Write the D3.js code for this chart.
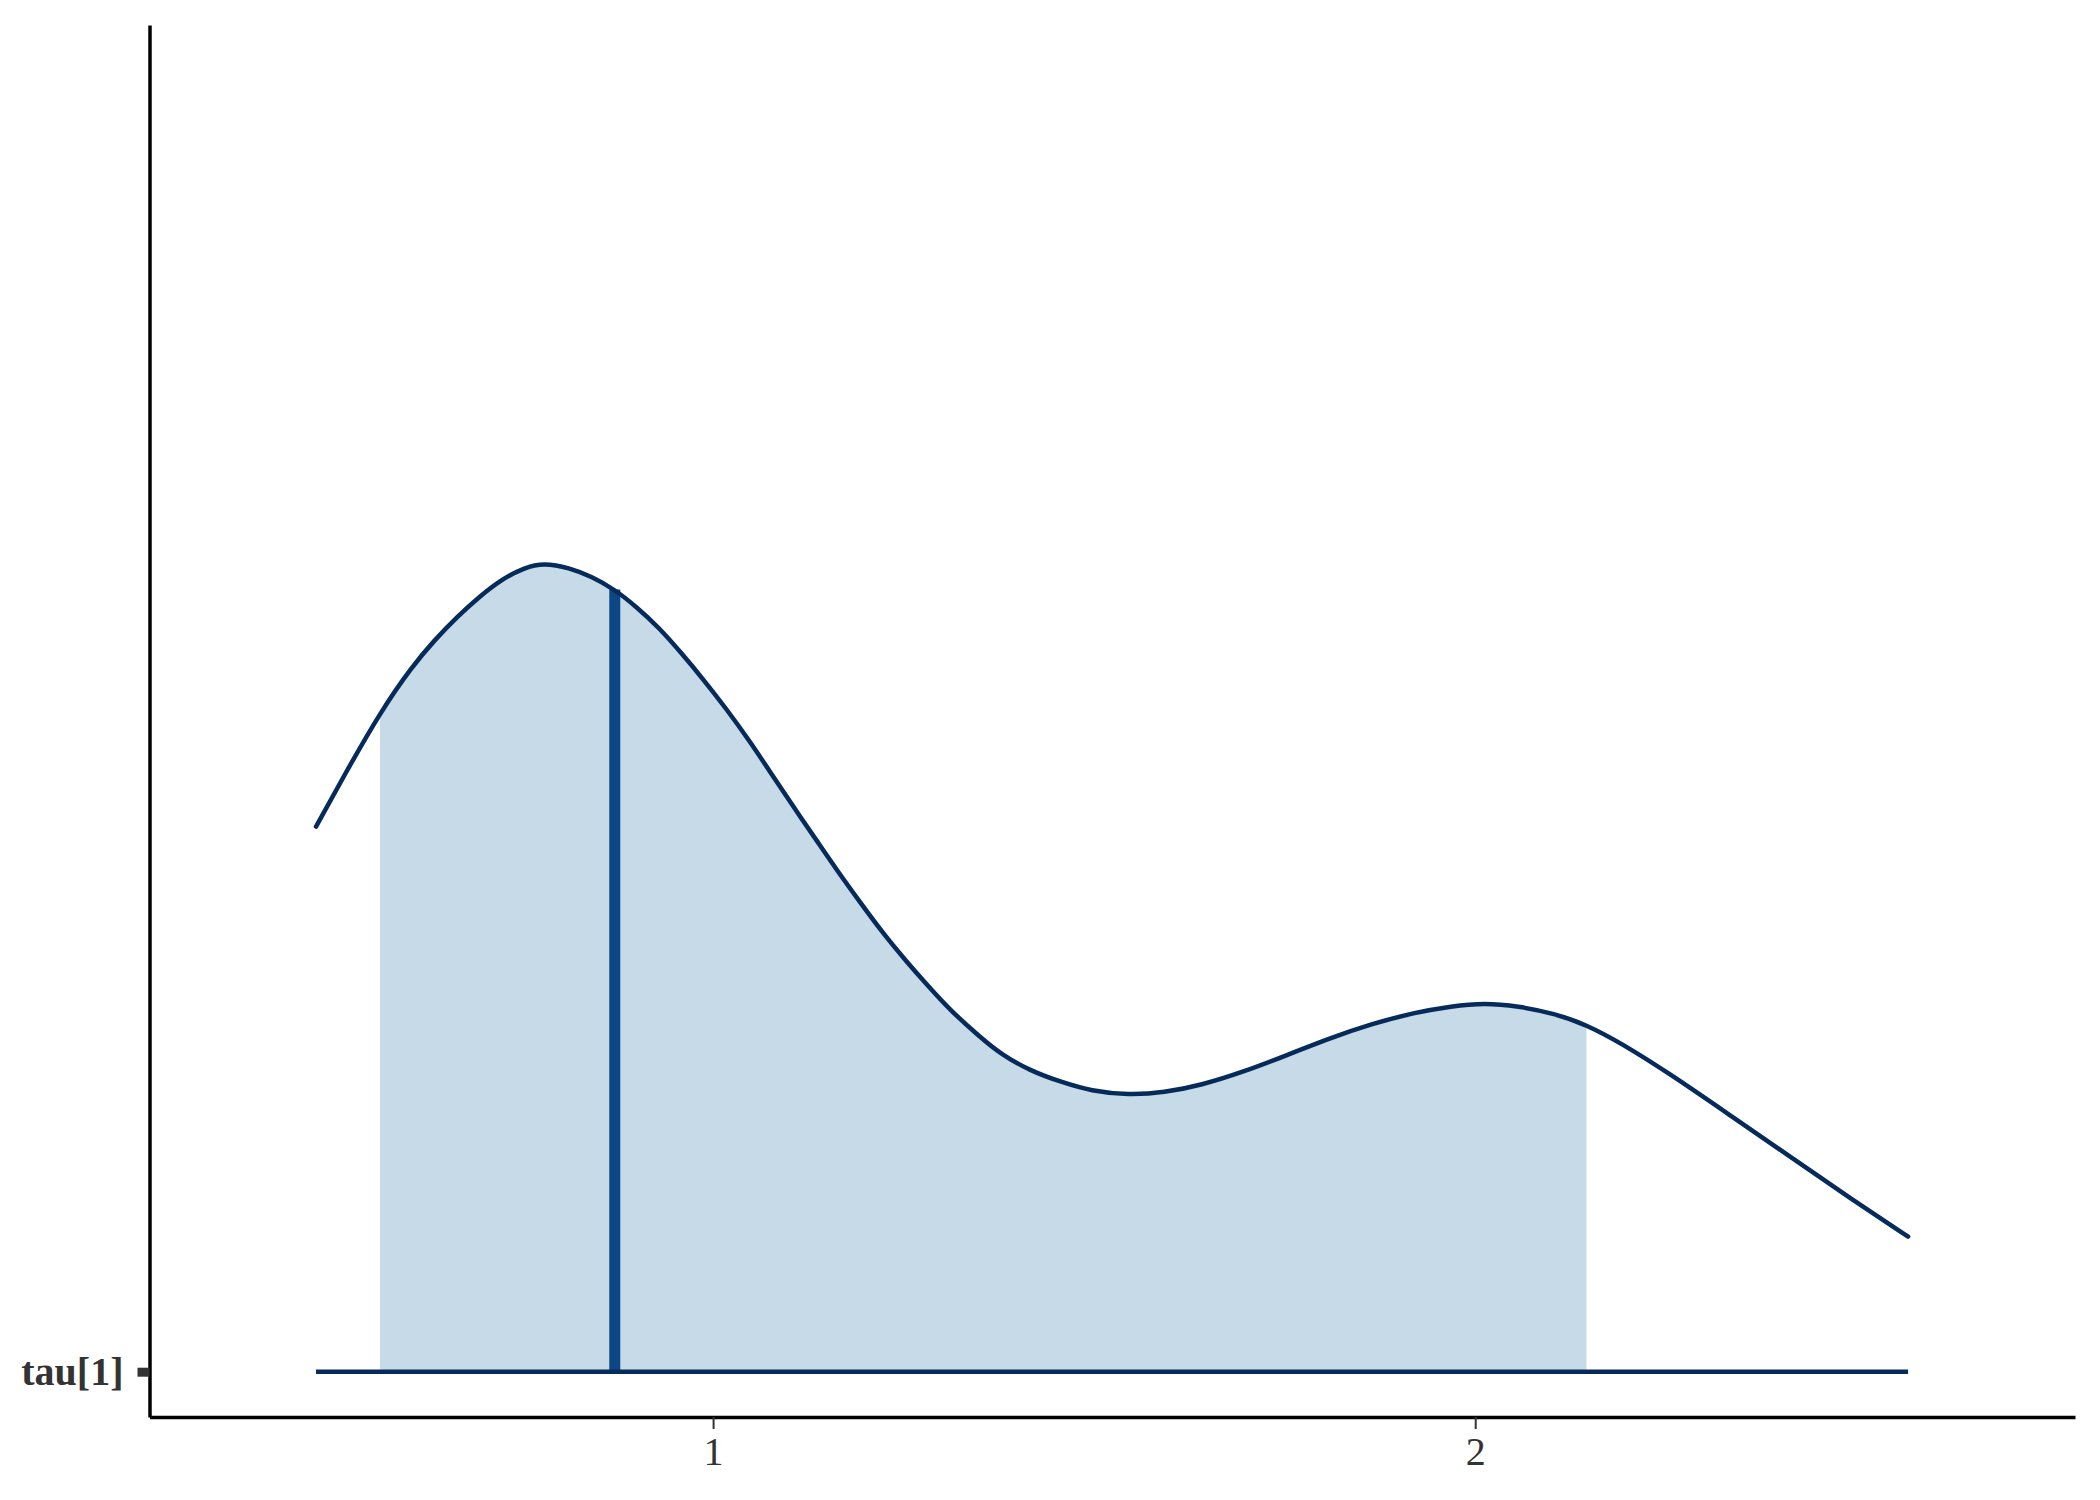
<!DOCTYPE html>
<html>
<head>
<meta charset="utf-8">
<script src="https://cdn.jsdelivr.net/npm/d3@7"></script>
<style>
  html, body { margin: 0; padding: 0; background: #fff; }
  .axis text { font-family: "Liberation Serif", "Times New Roman", serif; fill: #333; }
</style>
</head>
<body>
<script>
// posterior density of tau[1] (height scaled so the peak = 1)
const param = 'tau[1]';
const gridX = [0.479, 0.517, 0.563, 0.605, 0.635, 0.664, 0.693, 0.723, 0.752, 0.778,
  0.811, 0.841, 0.871, 0.899, 0.929, 0.958, 0.988, 1.017, 1.047, 1.076,
  1.105, 1.135, 1.164, 1.194, 1.223, 1.253, 1.282, 1.311, 1.350, 1.377,
  1.416, 1.457, 1.496, 1.545, 1.592, 1.640, 1.697, 1.752, 1.808, 1.864,
  1.920, 1.969, 2.012, 2.056, 2.104, 2.146, 2.192, 2.256, 2.336, 2.416,
  2.496, 2.568];
const density = [0.674, 0.739, 0.815, 0.872, 0.905, 0.933, 0.958, 0.980, 0.994, 1.000,
  0.994, 0.983, 0.967, 0.946, 0.920, 0.889, 0.855, 0.820, 0.781, 0.740,
  0.699, 0.658, 0.618, 0.579, 0.542, 0.508, 0.477, 0.447, 0.414, 0.393,
  0.372, 0.358, 0.347, 0.342, 0.345, 0.354, 0.371, 0.391, 0.412, 0.430,
  0.444, 0.452, 0.456, 0.452, 0.443, 0.429, 0.406, 0.368, 0.316, 0.264,
  0.212, 0.167];
const interval = [0.563, 2.146];   // shaded inner interval
const median = 0.871;
const xTicks = [1, 2];

const W = 2100, H = 1500;
const svg = d3.select('body').append('svg')
  .attr('width', W).attr('height', H);

const x = d3.scaleLinear().domain([0.2605, 2.787]).range([149.5, 2075]);
// ridge sits at y = 1, density added on top of it
const y = d3.scaleLinear().domain([0.944, 2.665]).range([1417, 25]);

const pts = gridX.map((v, i) => ({ x: v, d: density[i] }));
const base = 1;

// clip for the shaded interval
svg.append('defs').append('clipPath').attr('id', 'ci')
  .append('rect')
    .attr('x', x(interval[0])).attr('y', 0)
    .attr('width', x(interval[1]) - x(interval[0])).attr('height', H);

const area = d3.area()
  .x(p => x(p.x))
  .y0(y(base))
  .y1(p => y(base + p.d))
  .curve(d3.curveBasis);

svg.append('path')
  .datum(pts)
  .attr('clip-path', 'url(#ci)')
  .attr('fill', '#c6dae8')
  .attr('d', area);

// median line, height from the density at the median
const i = d3.bisector(p => p.x).left(pts, median);
const a = pts[Math.max(i - 1, 0)], b = pts[i];
const dMed = a.x === b.x ? a.d : a.d + (b.d - a.d) * (median - a.x) / (b.x - a.x);
svg.append('line')
  .attr('x1', x(median)).attr('x2', x(median))
  .attr('y1', y(base)).attr('y2', y(base + dMed))
  .attr('stroke', '#0a4784')
  .attr('stroke-width', 11);

// density outline
svg.append('path')
  .datum(pts)
  .attr('fill', 'none')
  .attr('stroke', '#062b5b')
  .attr('stroke-width', 4.5)
  .attr('stroke-linecap', 'round')
  .attr('d', d3.line().x(p => x(p.x)).y(p => y(base + p.d)).curve(d3.curveBasis));

// baseline of the ridge
svg.append('line')
  .attr('x1', x(gridX[0])).attr('x2', x(gridX[gridX.length - 1]))
  .attr('y1', y(base)).attr('y2', y(base))
  .attr('stroke', '#062b5b')
  .attr('stroke-width', 4.5);

// axes
const gx = svg.append('g').attr('class', 'axis')
  .attr('transform', `translate(0,${y.range()[0]})`)
  .call(d3.axisBottom(x).tickValues(xTicks).tickFormat(d3.format('d'))
    .tickSize(12).tickSizeOuter(0).tickPadding(8));
gx.select('.domain').attr('stroke', '#000').attr('stroke-width', 3.5);
gx.selectAll('.tick line').attr('stroke', '#333').attr('stroke-width', 2);
gx.selectAll('.tick text').attr('font-size', 40).attr('fill', '#333');

const gy = svg.append('g').attr('class', 'axis')
  .attr('transform', `translate(${x.range()[0]},0)`)
  .call(d3.axisLeft(y).tickValues([base]).tickFormat(() => param)
    .tickSize(12).tickSizeOuter(0).tickPadding(14));
gy.select('.domain').attr('stroke', '#000').attr('stroke-width', 3.5);
gy.selectAll('.tick line').attr('stroke', '#333').attr('stroke-width', 9);
gy.selectAll('.tick text').attr('font-size', 40).attr('font-weight', 'bold').attr('fill', '#3a3a3a');
</script>
</body>
</html>
